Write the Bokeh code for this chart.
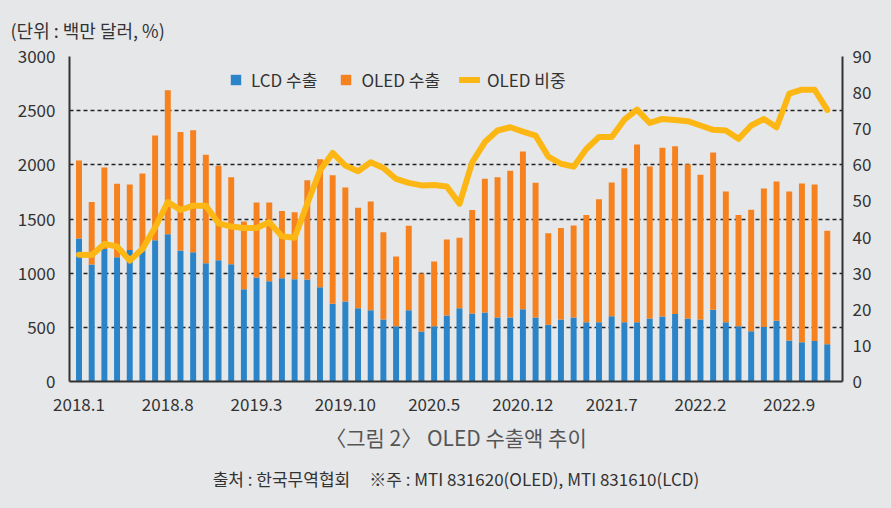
from bokeh.plotting import figure
from bokeh.models import (ColumnDataSource, Range1d, LinearAxis, FixedTicker, Legend,
                          LegendItem, Title, GlobalInlineStyleSheet)
from bokeh.embed import file_html
from bokeh.resources import INLINE

months = ["2018.1", "2018.2", "2018.3", "2018.4", "2018.5", "2018.6", "2018.7", "2018.8", "2018.9", "2018.10", "2018.11", "2018.12",
          "2019.1", "2019.2", "2019.3", "2019.4", "2019.5", "2019.6", "2019.7", "2019.8", "2019.9", "2019.10", "2019.11", "2019.12",
          "2020.1", "2020.2", "2020.3", "2020.4", "2020.5", "2020.6", "2020.7", "2020.8", "2020.9", "2020.10", "2020.11", "2020.12",
          "2021.1", "2021.2", "2021.3", "2021.4", "2021.5", "2021.6", "2021.7", "2021.8", "2021.9", "2021.10", "2021.11", "2021.12",
          "2022.1", "2022.2", "2022.3", "2022.4", "2022.5", "2022.6", "2022.7", "2022.8", "2022.9", "2022.10", "2022.11", "2022.12"]

lcd = [1320, 1080, 1222, 1148, 1215, 1209, 1305, 1360, 1209, 1194, 1092, 1120,
       1083, 852, 960, 926, 954, 945, 942, 871, 717, 738, 677, 658,
       572, 511, 658, 462, 511, 609, 677, 628, 637, 591, 591, 668,
       591, 523, 572, 591, 548, 548, 603, 548, 548, 582, 600, 622,
       582, 572, 662, 548, 511, 465, 502, 560, 378, 363, 375, 345]

oled = [720, 578, 753, 677, 603, 711, 966, 1329, 1093, 1126, 1000, 871,
        803, 625, 692, 726, 621, 618, 916, 1181, 1188, 1053, 926, 1004,
        806, 643, 779, 535, 597, 702, 649, 954, 1234, 1295, 1354, 1455,
        1243, 846, 846, 849, 990, 1135, 1234, 1421, 1640, 1403, 1557, 1550,
        1424, 1336, 1452, 1206, 1027, 1120, 1280, 1286, 1376, 1465, 1443, 1046]

share = [35.1, 35.0, 38.1, 37.4, 33.5, 36.7, 42.7, 49.7, 47.5, 48.7, 48.7, 43.8,
         42.9, 42.5, 42.5, 44.1, 40.2, 39.8, 49.3, 58.4, 63.3, 59.8, 58.2, 60.7,
         59.1, 56.1, 55.0, 54.3, 54.4, 54.0, 49.2, 60.7, 66.3, 69.5, 70.4, 69.2,
         68.1, 62.3, 60.3, 59.5, 64.4, 67.7, 67.7, 72.5, 75.3, 71.6, 72.7, 72.4,
         72.1, 70.9, 69.7, 69.5, 67.2, 70.9, 72.7, 70.4, 79.7, 80.8, 80.8, 75.2]

x_tick_labels = ["2018.1", "2018.8", "2019.3", "2019.10", "2020.5", "2020.12", "2021.7", "2022.2", "2022.9"]
left_ticks = [0, 500, 1000, 1500, 2000, 2500, 3000]
right_ticks = [0, 10, 20, 30, 40, 50, 60, 70, 80, 90]

BG = "#e6e7e9"
BLUE = "#2b84c7"
ORANGE = "#f5821f"
GOLD = "#fdb714"
FONT = "'Noto Sans CJK KR', 'Noto Sans', sans-serif"
NB = "\u00a0"

xs = list(range(len(months)))
top_total = [a + b for a, b in zip(lcd, oled)]
src = ColumnDataSource(dict(x=xs, lcd=lcd, total=top_total, share=share, month=months))

p = figure(width=891, height=508, output_backend="svg", toolbar_location=None,
           x_range=Range1d(-0.75, 60.2), y_range=Range1d(0, 3000),
           min_border_left=69, min_border_right=49, min_border_top=56, min_border_bottom=127)
p.extra_y_ranges = {"share": Range1d(0, 90)}
p.background_fill_color = BG
p.border_fill_color = BG
p.outline_line_color = None
p.stylesheets = [GlobalInlineStyleSheet(css="body{background:%s;}" % BG)]

r_lcd = p.vbar(x="x", bottom=0, top="lcd", width=0.47, source=src, fill_color=BLUE, line_color=None)
r_oled = p.vbar(x="x", bottom="lcd", top="total", width=0.47, source=src, fill_color=ORANGE, line_color=None)
r_line = p.line(x="x", y="share", source=src, y_range_name="share", line_color=GOLD,
                line_width=6, line_join="round", line_cap="round")

def style_axis(ax):
    ax.axis_line_color = "#333333"
    ax.axis_line_width = 2
    ax.major_tick_line_color = None
    ax.minor_tick_line_color = None
    ax.major_tick_out = 0
    ax.major_tick_in = 0
    ax.major_label_text_font = FONT
    ax.major_label_text_font_size = "17px"
    ax.major_label_text_color = "#333333"

p.xaxis.ticker = FixedTicker(ticks=[months.index(t) for t in x_tick_labels])
p.xaxis.major_label_overrides = {months.index(t): t for t in x_tick_labels}
p.yaxis.ticker = FixedTicker(ticks=left_ticks)
style_axis(p.xaxis[0])
style_axis(p.yaxis[0])
p.xaxis.major_label_standoff = 16
p.yaxis.major_label_standoff = 14

ax_r = LinearAxis(y_range_name="share", ticker=FixedTicker(ticks=right_ticks))
style_axis(ax_r)
ax_r.major_label_standoff = 10
p.add_layout(ax_r, "right")

p.xgrid.grid_line_color = None
p.ygrid.ticker = FixedTicker(ticks=left_ticks)
p.ygrid.grid_line_color = "#222222"
p.ygrid.grid_line_width = 1.3
p.ygrid.grid_line_dash = "4 3"

leg1 = Legend(items=[LegendItem(label="LCD 수출", renderers=[r_lcd]),
                     LegendItem(label="OLED 수출", renderers=[r_oled])],
              orientation="horizontal", location=(160, 289), glyph_width=13, glyph_height=13,
              label_standoff=9, spacing=22, padding=0, margin=0,
              background_fill_alpha=0, border_line_color=None,
              label_text_font=FONT, label_text_font_size="17px", label_text_color="#333333")
leg2 = Legend(items=[LegendItem(label="OLED 비중", renderers=[r_line])],
              orientation="horizontal", location=(390, 289), glyph_width=21, glyph_height=13,
              label_standoff=7, padding=0, margin=0,
              background_fill_alpha=0, border_line_color=None,
              label_text_font=FONT, label_text_font_size="17px", label_text_color="#333333")
p.add_layout(leg1, "center")
p.add_layout(leg2, "center")

t_unit = Title(text="(단위 : 백만 달러, %)", align="left", offset=-59, standoff=28,
               text_font=FONT, text_font_size="18px", text_color="#333333", text_font_style="normal")
p.add_layout(t_unit, "above")

t_cap = Title(text="〈그림 2〉 OLED 수출액 추이", align="center", standoff=12,
              text_font=FONT, text_font_size="21px", text_color="#555555", text_font_style="normal")
t_src = Title(text="출처 : 한국무역협회" + NB * 5 + "※주 : MTI 831620(OLED), MTI 831610(LCD)",
              align="center", standoff=13,
              text_font=FONT, text_font_size="17px", text_color="#333333", text_font_style="normal")
p.add_layout(t_cap, "below")
p.add_layout(t_src, "below")

open("out.html", "w").write(file_html(p, INLINE))
